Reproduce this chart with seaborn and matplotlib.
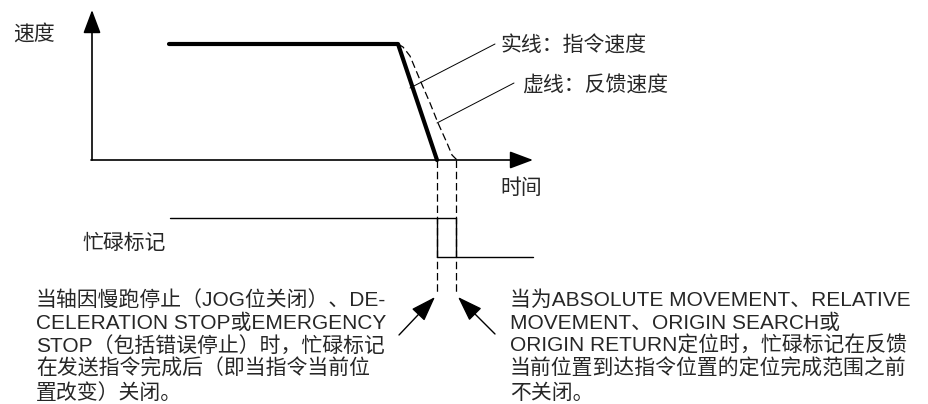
import numpy as np
import pandas as pd
import matplotlib
matplotlib.use("Agg")
import matplotlib.pyplot as plt
import seaborn as sns

## diagram data (pixel space of the 929x404 canvas, y grows downward)
cmd_x = [169, 398, 437]
cmd_y = [44, 44, 160]

fb_x = [398, 403, 410, 420, 430, 438, 447, 452, 457]
fb_y = [44, 47, 56, 80, 103, 123, 143, 155, 160]

busy_hi_x = [170, 456]
busy_lo_x = [437, 533]
busy_hi_y = 218
busy_lo_y = 257

t_stop_cmd = 437
t_stop_fb = 456

axis_origin = (92, 160)
axis_x_end = 533
axis_y_end = 10

label_speed = "速度"
label_time = "时间"
label_busy = "忙碌标记"
legend_solid = "实线：指令速度"
legend_dash = "虚线：反馈速度"

left_note = ["当轴因慢跑停止（JOG位关闭）、DE-",
             "CELERATION STOP或EMERGENCY",
             "STOP（包括错误停止）时，忙碌标记",
             "在发送指令完成后（即当指令当前位",
             "置改变）关闭。"]
right_note = ["当为ABSOLUTE MOVEMENT、RELATIVE",
              "MOVEMENT、ORIGIN SEARCH或",
              "ORIGIN RETURN定位时，忙碌标记在反馈",
              "当前位置到达指令位置的定位完成范围之前",
              "不关闭。"]
note_y = [300, 323, 346, 369, 393]

sns.set_theme(style="white")
plt.rcParams['font.family'] = ['Liberation Sans', 'Noto Sans CJK SC', 'DejaVu Sans']

fig = plt.figure(figsize=(9.29, 4.04), dpi=100)
ax = fig.add_axes([0, 0, 1, 1])

## speed axes with arrow heads
ox, oy = axis_origin
head = dict(arrowstyle='-|>,head_length=1.2,head_width=0.45', color='black', lw=1.2,
            shrinkA=0, shrinkB=0)
ax.annotate('', xy=(ox, axis_y_end), xytext=(ox, oy), arrowprops=head)
ax.annotate('', xy=(axis_x_end, oy), xytext=(ox - 1, oy), arrowprops=head)

## command speed (solid) and feedback speed (dashed)
cmd = pd.DataFrame({'x': cmd_x, 'y': cmd_y})
fb = pd.DataFrame({'x': fb_x, 'y': fb_y})
sns.lineplot(data=cmd, x='x', y='y', sort=False, ax=ax, color='black', lw=3.0)
sns.lineplot(data=fb, x='x', y='y', sort=False, ax=ax, color='black', lw=0.9,
             linestyle=(0, (6, 3)))

## dashed drop lines
for t in [t_stop_cmd, t_stop_fb]:
    ax.plot([t, t], [oy, 295], color='black', lw=0.9, linestyle=(0, (6, 3)))

## busy flag signal
ax.plot(busy_hi_x, [busy_hi_y, busy_hi_y], color='black', lw=1.0)
ax.plot([t_stop_fb, t_stop_fb], [busy_hi_y, busy_lo_y], color='black', lw=1.0)
ax.plot([t_stop_cmd, t_stop_cmd], [busy_hi_y, busy_lo_y], color='black', lw=1.0)
ax.plot(busy_lo_x, [busy_lo_y, busy_lo_y], color='black', lw=1.0)

## leader lines for the legend text
ax.plot([410, 495], [88, 44], color='black', lw=0.7)
ax.plot([437, 514], [123, 83], color='black', lw=0.7)

## pointer arrows
ptr = dict(arrowstyle='-|>,head_length=1.3,head_width=0.45', color='black', lw=1.0,
           shrinkA=0, shrinkB=0)
ax.annotate('', xy=(435, 297), xytext=(399, 335), arrowprops=ptr)
ax.annotate('', xy=(458, 297), xytext=(495, 334), arrowprops=ptr)

fs = 15
ax.text(13, 34, label_speed, fontsize=fs, va='center', ha='left')
ax.text(500, 188, label_time, fontsize=fs, va='center', ha='left')
ax.text(82, 243, label_busy, fontsize=fs, va='center', ha='left')
ax.text(501, 46, legend_solid, fontsize=fs, va='center', ha='left')
ax.text(522, 86, legend_dash, fontsize=fs, va='center', ha='left')

for line, y in zip(left_note, note_y):
    ax.text(36, y, line, fontsize=fs, va='center', ha='left')
for line, y in zip(right_note, note_y):
    ax.text(510, y, line, fontsize=fs, va='center', ha='left')

ax.set_xlim(0, 929)
ax.set_ylim(404, 0)
ax.axis('off')

fig.savefig('out.png', dpi=100)
